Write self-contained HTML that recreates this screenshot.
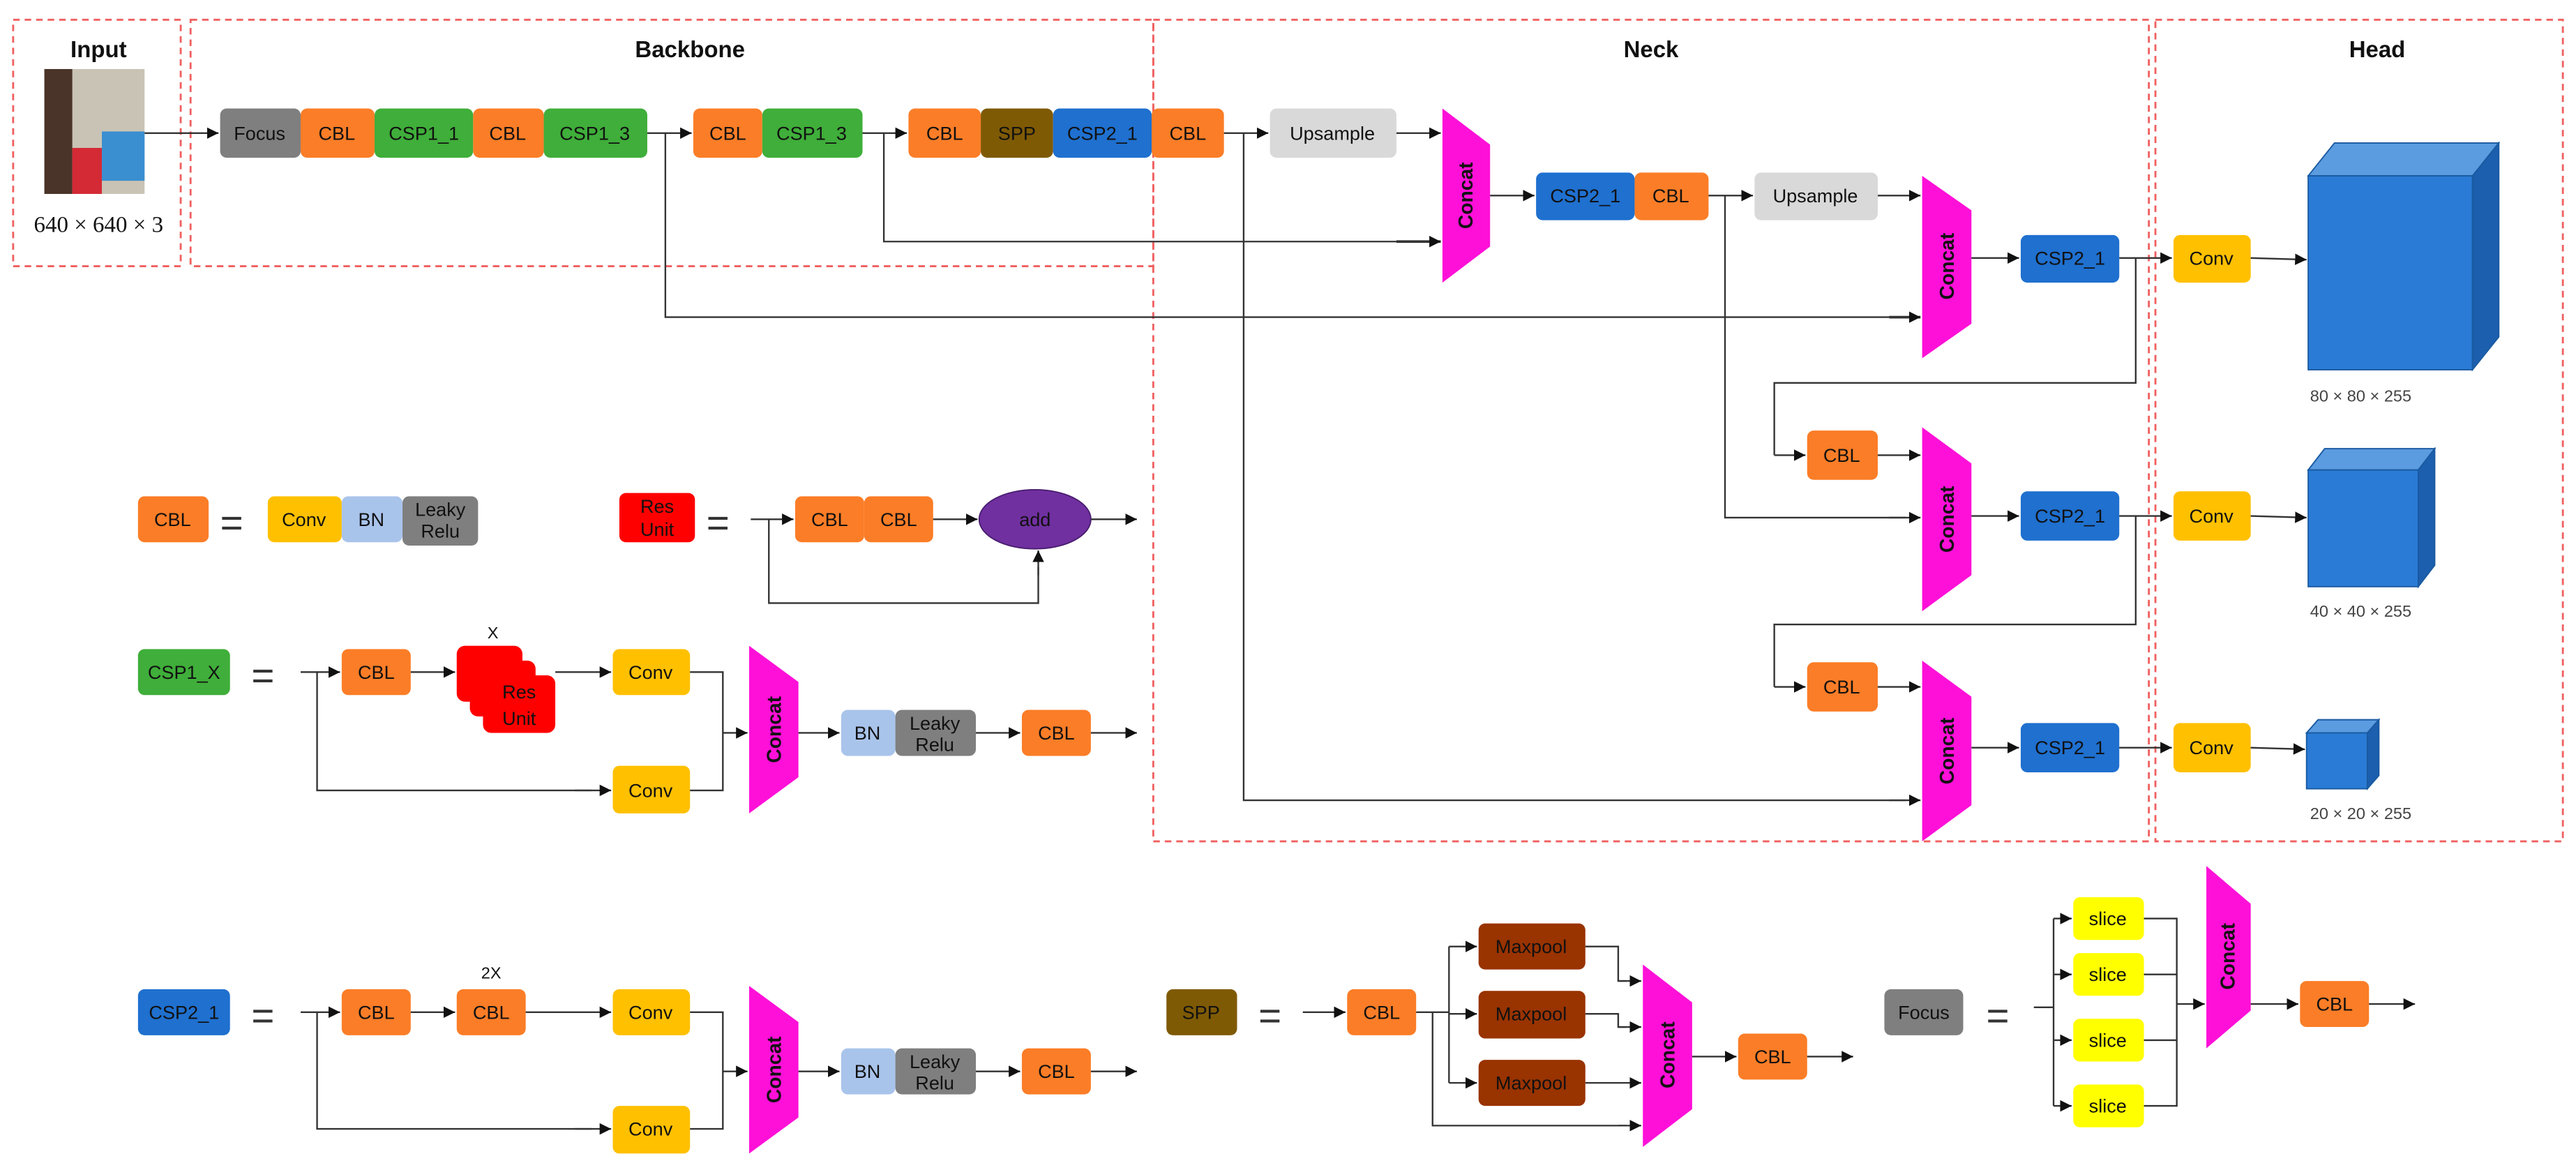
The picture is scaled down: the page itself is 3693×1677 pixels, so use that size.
<!DOCTYPE html>
<html><head><meta charset="utf-8"><style>
html,body{margin:0;padding:0;background:#fff;}
svg{display:block;}
text{font-family:"Liberation Sans Narrow","Liberation Sans",sans-serif;font-size:11.5px;fill:#111;text-anchor:middle;dominant-baseline:central;}
.t{font-family:"Liberation Sans",sans-serif;font-weight:bold;font-size:14px;}
.c{font-family:"Liberation Sans",sans-serif;font-weight:bold;font-size:12px;}
.d{fill:none;stroke:#f06060;stroke-width:1.2;stroke-dasharray:4,3;}
.l{fill:none;stroke:#333;stroke-width:1;}
.a{fill:none;stroke:#333;stroke-width:1;marker-end:url(#ar);}
.o{fill:#fb7d27}.g{fill:#3fae3a}.b{fill:#1f70cf}.y{fill:#ffc000}.gr{fill:#7f7f7f}.cc{fill:#ff10d8}
</style></head><body>
<svg width="3693" height="1677" viewBox="0 0 1568 712" xmlns="http://www.w3.org/2000/svg">
<defs><marker id="ar" markerWidth="8" markerHeight="8" refX="7" refY="4" orient="auto" markerUnits="userSpaceOnUse"><path d="M0,0.5 L7,4 L0,7.5z" fill="#111"/></marker></defs>

<!-- dashed regions -->
<rect class="d" x="8" y="12" width="102" height="150"/>
<rect class="d" x="116" y="12" width="586" height="150"/>
<rect class="d" x="702" y="12" width="606" height="500"/>
<rect class="d" x="1312" y="12" width="248" height="500"/>
<text class="t" x="60" y="30">Input</text>
<text class="t" x="420" y="30">Backbone</text>
<text class="t" x="1005" y="30">Neck</text>
<text class="t" x="1447" y="30">Head</text>

<!-- input image -->
<rect x="27" y="42" width="61" height="76" fill="#c9c3b5"/>
<rect x="27" y="42" width="17" height="76" fill="#4a3328"/>
<rect x="44" y="90" width="18" height="28" fill="#d42a35"/>
<rect x="62" y="80" width="26" height="30" fill="#3a8fd0"/>
<text x="60" y="137" style="font-family:'Liberation Serif',serif;font-size:14px">640 × 640 × 3</text>
<line class="a" x1="88" y1="81" x2="133" y2="81"/>

<!-- top row -->
<rect class="gr" x="134" y="66" width="49" height="30" rx="4"/><text x="158" y="81">Focus</text>
<rect class="o" x="183" y="66" width="45" height="30" rx="4"/><text x="205" y="81">CBL</text>
<rect class="g" x="228" y="66" width="60" height="30" rx="4"/><text x="258" y="81">CSP1_1</text>
<rect class="o" x="288" y="66" width="43" height="30" rx="4"/><text x="309" y="81">CBL</text>
<rect class="g" x="331" y="66" width="63" height="30" rx="4"/><text x="362" y="81">CSP1_3</text>
<line class="a" x1="394" y1="81" x2="421" y2="81"/>
<rect class="o" x="422" y="66" width="42" height="30" rx="4"/><text x="443" y="81">CBL</text>
<rect class="g" x="464" y="66" width="61" height="30" rx="4"/><text x="494" y="81">CSP1_3</text>
<line class="a" x1="525" y1="81" x2="552" y2="81"/>
<rect class="o" x="553" y="66" width="44" height="30" rx="4"/><text x="575" y="81">CBL</text>
<rect x="597" y="66" width="44" height="30" rx="4" fill="#7f5a05"/><text x="619" y="81">SPP</text>
<rect class="b" x="641" y="66" width="60" height="30" rx="4"/><text x="671" y="81">CSP2_1</text>
<rect class="o" x="701" y="66" width="44" height="30" rx="4"/><text x="723" y="81">CBL</text>
<line class="a" x1="745" y1="81" x2="772" y2="81"/>
<rect x="773" y="66" width="77" height="30" rx="4" fill="#d9d9d9"/><text x="811" y="81">Upsample</text>
<line class="a" x1="850" y1="81" x2="877" y2="81"/>

<!-- branches -->
<polyline class="l" points="757,81 757,487 1160,487"/><line class="a" x1="1150" y1="487" x2="1169" y2="487"/>
<polyline class="l" points="538,81 538,147 860,147"/><line class="a" x1="850" y1="147" x2="877" y2="147" style="stroke-width:1.6"/>
<polyline class="l" points="405,81 405,193 1160,193"/><line class="a" x1="1150" y1="193" x2="1169" y2="193" style="stroke-width:1.6"/>

<!-- concat 1 -->
<polygon class="cc" points="878,66 907,88 907,150 878,172"/>
<text class="c" transform="translate(892,119) rotate(-90)">Concat</text>
<line class="a" x1="907" y1="119" x2="934" y2="119"/>
<rect class="b" x="935" y="105" width="60" height="29" rx="4"/><text x="965" y="119">CSP2_1</text>
<rect class="o" x="995" y="105" width="45" height="29" rx="4"/><text x="1017" y="119">CBL</text>
<line class="a" x1="1040" y1="119" x2="1067" y2="119"/>
<rect x="1068" y="105" width="75" height="29" rx="4" fill="#d9d9d9"/><text x="1105" y="119">Upsample</text>
<line class="a" x1="1143" y1="119" x2="1169" y2="119"/>
<polyline class="l" points="1050,119 1050,315 1160,315"/><line class="a" x1="1150" y1="315" x2="1169" y2="315"/>

<!-- concat 2 -->
<polygon class="cc" points="1170,107 1200,128 1200,197 1170,218"/>
<text class="c" transform="translate(1185,162) rotate(-90)">Concat</text>
<line class="a" x1="1200" y1="157" x2="1229" y2="157"/>
<rect class="b" x="1230" y="143" width="60" height="29" rx="4"/><text x="1260" y="157">CSP2_1</text>
<line class="a" x1="1290" y1="157" x2="1322" y2="157"/>
<rect class="y" x="1323" y="143" width="47" height="29" rx="4"/><text x="1346" y="157">Conv</text>
<line class="a" x1="1370" y1="157" x2="1404" y2="158"/>
<polyline class="l" points="1300,157 1300,233 1080,233 1080,277"/><line class="a" x1="1080" y1="277" x2="1099" y2="277"/>
<rect class="o" x="1100" y="262" width="43" height="30" rx="4"/><text x="1121" y="277">CBL</text>
<line class="a" x1="1143" y1="277" x2="1169" y2="277"/>

<!-- concat 3 -->
<polygon class="cc" points="1170,260 1200,282 1200,350 1170,372"/>
<text class="c" transform="translate(1185,316) rotate(-90)">Concat</text>
<line class="a" x1="1200" y1="314" x2="1229" y2="314"/>
<rect class="b" x="1230" y="299" width="60" height="30" rx="4"/><text x="1260" y="314">CSP2_1</text>
<line class="a" x1="1290" y1="314" x2="1322" y2="314"/>
<rect class="y" x="1323" y="299" width="47" height="30" rx="4"/><text x="1346" y="314">Conv</text>
<line class="a" x1="1370" y1="314" x2="1404" y2="315"/>
<polyline class="l" points="1300,314 1300,380 1080,380 1080,418"/><line class="a" x1="1080" y1="418" x2="1099" y2="418"/>
<rect class="o" x="1100" y="403" width="43" height="30" rx="4"/><text x="1121" y="418">CBL</text>
<line class="a" x1="1143" y1="418" x2="1169" y2="418"/>

<!-- concat 4 -->
<polygon class="cc" points="1170,402 1200,424 1200,490 1170,512"/>
<text class="c" transform="translate(1185,457) rotate(-90)">Concat</text>
<line class="a" x1="1200" y1="455" x2="1229" y2="455"/>
<rect class="b" x="1230" y="440" width="60" height="30" rx="4"/><text x="1260" y="455">CSP2_1</text>
<line class="a" x1="1290" y1="455" x2="1322" y2="455"/>
<rect class="y" x="1323" y="440" width="47" height="30" rx="4"/><text x="1346" y="455">Conv</text>
<line class="a" x1="1370" y1="455" x2="1403" y2="456"/>

<!-- cubes -->
<polygon points="1405,107 1421,87 1521,87 1505,107" fill="#5b9be0" stroke="#1a5aa0" stroke-width="0.8"/>
<polygon points="1505,107 1521,87 1521,205 1505,225" fill="#1c5fae" stroke="#1a5aa0" stroke-width="0.8"/>
<rect x="1405" y="107" width="100" height="118" fill="#2a7bd6" stroke="#1a5aa0" stroke-width="0.8"/>
<text x="1437" y="241" style="font-size:10px;fill:#444">80 × 80 × 255</text>
<polygon points="1405,286 1415,273 1482,273 1472,286" fill="#5b9be0" stroke="#1a5aa0" stroke-width="0.8"/>
<polygon points="1472,286 1482,273 1482,344 1472,357" fill="#1c5fae" stroke="#1a5aa0" stroke-width="0.8"/>
<rect x="1405" y="286" width="67" height="71" fill="#2a7bd6" stroke="#1a5aa0" stroke-width="0.8"/>
<text x="1437" y="372" style="font-size:10px;fill:#444">40 × 40 × 255</text>
<polygon points="1404,446 1411,438 1448,438 1441,446" fill="#5b9be0" stroke="#1a5aa0" stroke-width="0.8"/>
<polygon points="1441,446 1448,438 1448,472 1441,480" fill="#1c5fae" stroke="#1a5aa0" stroke-width="0.8"/>
<rect x="1404" y="446" width="37" height="34" fill="#2a7bd6" stroke="#1a5aa0" stroke-width="0.8"/>
<text x="1437" y="495" style="font-size:10px;fill:#444">20 × 20 × 255</text>

<!-- legend CBL -->
<rect class="o" x="84" y="302" width="43" height="28" rx="4"/><text x="105" y="316">CBL</text>
<text x="141" y="318" style="font-size:24px;font-family:'Liberation Sans',sans-serif;fill:#333">=</text>
<rect class="y" x="163" y="302" width="45" height="28" rx="4"/><text x="185" y="316">Conv</text>
<rect x="208" y="302" width="37" height="28" rx="4" fill="#a9c4eb"/><text x="226" y="316">BN</text>
<rect class="gr" x="245" y="302" width="46" height="30" rx="4"/><text x="268" y="310">Leaky</text><text x="268" y="323">Relu</text>

<!-- Res Unit -->
<rect x="377" y="300" width="46" height="30" rx="4" fill="#ff0000"/><text x="400" y="308">Res</text><text x="400" y="322">Unit</text>
<text x="437" y="318" style="font-size:24px;font-family:'Liberation Sans',sans-serif;fill:#333">=</text>
<line class="a" x1="457" y1="316" x2="483" y2="316"/>
<rect class="o" x="484" y="302" width="42" height="28" rx="4"/><text x="505" y="316">CBL</text>
<rect class="o" x="526" y="302" width="42" height="28" rx="4"/><text x="547" y="316">CBL</text>
<line class="a" x1="568" y1="316" x2="595" y2="316"/>
<ellipse cx="630" cy="316" rx="34" ry="18" fill="#7030a0" stroke="#4a1e70" stroke-width="0.8"/><text x="630" y="316">add</text>
<line class="a" x1="664" y1="316" x2="692" y2="316"/>
<polyline class="l" points="468,316 468,367 632,367 632,345"/><line class="a" x1="632" y1="350" x2="632" y2="335"/>

<!-- CSP1_X -->
<rect class="g" x="84" y="395" width="56" height="28" rx="4"/><text x="112" y="409">CSP1_X</text>
<text x="160" y="411" style="font-size:24px;font-family:'Liberation Sans',sans-serif;fill:#333">=</text>
<line class="a" x1="183" y1="409" x2="207" y2="409"/>
<rect class="o" x="208" y="395" width="42" height="28" rx="4"/><text x="229" y="409">CBL</text>
<line class="a" x1="250" y1="409" x2="277" y2="409"/>
<rect x="278" y="393" width="40" height="34" rx="5" fill="#ff0000"/>
<rect x="286" y="402" width="40" height="34" rx="5" fill="#ff0000"/>
<rect x="294" y="411" width="44" height="35" rx="5" fill="#ff0000"/>
<text x="316" y="421">Res</text><text x="316" y="437">Unit</text>
<text x="300" y="385" style="font-size:10px">X</text>
<line class="a" x1="338" y1="409" x2="372" y2="409"/>
<rect class="y" x="373" y="395" width="47" height="28" rx="4"/><text x="396" y="409">Conv</text>
<polyline class="l" points="193,409 193,481 360,481"/><line class="a" x1="350" y1="481" x2="372" y2="481"/>
<rect class="y" x="373" y="466" width="47" height="29" rx="4"/><text x="396" y="481">Conv</text>
<polyline class="l" points="420,409 440,409 440,481 420,481"/>
<line class="a" x1="440" y1="446" x2="455" y2="446"/>
<polygon class="cc" points="456,393 486,415 486,473 456,495"/>
<text class="c" transform="translate(471,444) rotate(-90)">Concat</text>
<line class="a" x1="486" y1="446" x2="511" y2="446"/>
<rect x="512" y="432" width="33" height="28" rx="4" fill="#a9c4eb"/><text x="528" y="446">BN</text>
<rect class="gr" x="545" y="432" width="49" height="28" rx="4"/><text x="569" y="440">Leaky</text><text x="569" y="453">Relu</text>
<line class="a" x1="594" y1="446" x2="621" y2="446"/>
<rect class="o" x="622" y="432" width="42" height="28" rx="4"/><text x="643" y="446">CBL</text>
<line class="a" x1="664" y1="446" x2="692" y2="446"/>

<!-- CSP2_1 -->
<rect class="b" x="84" y="602" width="56" height="28" rx="4"/><text x="112" y="616">CSP2_1</text>
<text x="160" y="618" style="font-size:24px;font-family:'Liberation Sans',sans-serif;fill:#333">=</text>
<line class="a" x1="183" y1="616" x2="207" y2="616"/>
<rect class="o" x="208" y="602" width="42" height="28" rx="4"/><text x="229" y="616">CBL</text>
<line class="a" x1="250" y1="616" x2="277" y2="616"/>
<rect class="o" x="278" y="602" width="42" height="28" rx="4"/><text x="299" y="616">CBL</text>
<text x="299" y="592" style="font-size:10px">2X</text>
<line class="a" x1="320" y1="616" x2="372" y2="616"/>
<rect class="y" x="373" y="602" width="47" height="28" rx="4"/><text x="396" y="616">Conv</text>
<polyline class="l" points="193,616 193,687 360,687"/><line class="a" x1="350" y1="687" x2="372" y2="687"/>
<rect class="y" x="373" y="673" width="47" height="29" rx="4"/><text x="396" y="687">Conv</text>
<polyline class="l" points="420,616 440,616 440,687 420,687"/>
<line class="a" x1="440" y1="652" x2="455" y2="652"/>
<polygon class="cc" points="456,600 486,622 486,680 456,702"/>
<text class="c" transform="translate(471,651) rotate(-90)">Concat</text>
<line class="a" x1="486" y1="652" x2="511" y2="652"/>
<rect x="512" y="638" width="33" height="28" rx="4" fill="#a9c4eb"/><text x="528" y="652">BN</text>
<rect class="gr" x="545" y="638" width="49" height="28" rx="4"/><text x="569" y="646">Leaky</text><text x="569" y="659">Relu</text>
<line class="a" x1="594" y1="652" x2="621" y2="652"/>
<rect class="o" x="622" y="638" width="42" height="28" rx="4"/><text x="643" y="652">CBL</text>
<line class="a" x1="664" y1="652" x2="692" y2="652"/>

<!-- SPP -->
<rect x="710" y="602" width="43" height="28" rx="4" fill="#7f5a05"/><text x="731" y="616">SPP</text>
<text x="773" y="618" style="font-size:24px;font-family:'Liberation Sans',sans-serif;fill:#333">=</text>
<line class="a" x1="793" y1="616" x2="819" y2="616"/>
<rect class="o" x="820" y="602" width="42" height="28" rx="4"/><text x="841" y="616">CBL</text>
<line class="l" x1="862" y1="616" x2="882" y2="616"/>
<polyline class="l" points="882,576 882,659"/>
<line class="a" x1="882" y1="576" x2="899" y2="576"/>
<line class="a" x1="882" y1="617" x2="899" y2="617"/>
<line class="a" x1="882" y1="659" x2="899" y2="659"/>
<rect x="900" y="562" width="65" height="28" rx="4" fill="#993300"/><text x="932" y="576">Maxpool</text>
<rect x="900" y="603" width="65" height="29" rx="4" fill="#993300"/><text x="932" y="617">Maxpool</text>
<rect x="900" y="645" width="65" height="28" rx="4" fill="#993300"/><text x="932" y="659">Maxpool</text>
<polyline class="l" points="965,576 985,576 985,597 990,597"/><line class="a" x1="985" y1="597" x2="999" y2="597"/>
<polyline class="l" points="965,617 985,617 985,625 990,625"/><line class="a" x1="985" y1="625" x2="999" y2="625"/>
<line class="a" x1="965" y1="659" x2="999" y2="659"/>
<polyline class="l" points="872,616 872,685 990,685"/><line class="a" x1="985" y1="685" x2="999" y2="685"/>
<polygon class="cc" points="1000,587 1030,610 1030,675 1000,698"/>
<text class="c" transform="translate(1015,642) rotate(-90)">Concat</text>
<line class="a" x1="1030" y1="643" x2="1057" y2="643"/>
<rect class="o" x="1058" y="629" width="42" height="28" rx="4"/><text x="1079" y="643">CBL</text>
<line class="a" x1="1100" y1="643" x2="1128" y2="643"/>

<!-- Focus -->
<rect class="gr" x="1147" y="602" width="48" height="28" rx="4"/><text x="1171" y="616">Focus</text>
<text x="1216" y="618" style="font-size:24px;font-family:'Liberation Sans',sans-serif;fill:#333">=</text>
<line class="l" x1="1238" y1="613" x2="1250" y2="613"/>
<line class="l" x1="1250" y1="559" x2="1250" y2="673"/>
<line class="a" x1="1250" y1="559" x2="1261" y2="559"/>
<line class="a" x1="1250" y1="593" x2="1261" y2="593"/>
<line class="a" x1="1250" y1="633" x2="1261" y2="633"/>
<line class="a" x1="1250" y1="673" x2="1261" y2="673"/>
<rect x="1262" y="546" width="43" height="26" rx="4" fill="#ffff00"/><text x="1283" y="559">slice</text>
<rect x="1262" y="580" width="43" height="26" rx="4" fill="#ffff00"/><text x="1283" y="593">slice</text>
<rect x="1262" y="620" width="43" height="26" rx="4" fill="#ffff00"/><text x="1283" y="633">slice</text>
<rect x="1262" y="660" width="43" height="26" rx="4" fill="#ffff00"/><text x="1283" y="673">slice</text>
<polyline class="l" points="1305,559 1325,559 1325,673 1305,673"/>
<line class="l" x1="1305" y1="593" x2="1325" y2="593"/>
<line class="l" x1="1305" y1="633" x2="1325" y2="633"/>
<line class="a" x1="1325" y1="611" x2="1342" y2="611"/>
<polygon class="cc" points="1343,527 1370,550 1370,615 1343,638"/>
<text class="c" transform="translate(1356,582) rotate(-90)">Concat</text>
<line class="a" x1="1370" y1="611" x2="1399" y2="611"/>
<rect class="o" x="1400" y="597" width="42" height="28" rx="4"/><text x="1421" y="611">CBL</text>
<line class="a" x1="1442" y1="611" x2="1470" y2="611"/>
</svg>
</body></html>
